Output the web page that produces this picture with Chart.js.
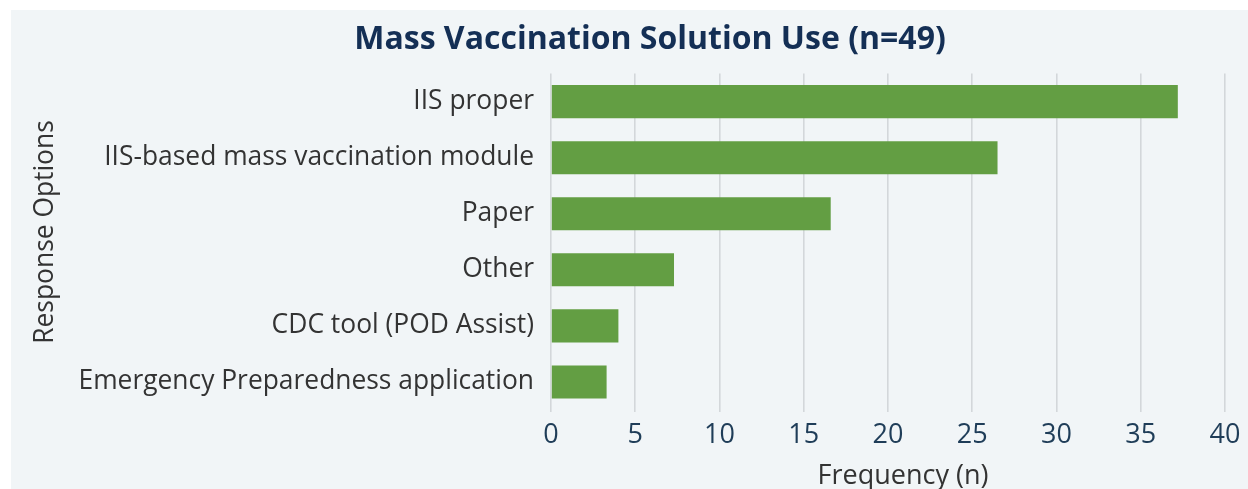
<!DOCTYPE html>
<html>
<head>
<meta charset="utf-8">
<script src="https://cdn.jsdelivr.net/npm/chart.js@4"></script>
<style>
  html, body { margin: 0; padding: 0; background: #ffffff; overflow: hidden; width: 1248px; height: 489px; }
  #panel { position: absolute; left: 11px; top: 10px; width: 1278px; height: 479px; background: #f1f5f7; }
  canvas { display: block; }
</style>
</head>
<body>
<div id="panel"><canvas id="c" width="1278" height="479"></canvas></div>
<script>
const categories = [
  "IIS proper",
  "IIS-based mass vaccination module",
  "Paper",
  "Other",
  "CDC tool (POD Assist)",
  "Emergency Preparedness application"
];
const frequency = [37.2, 26.5, 16.6, 7.3, 4.0, 3.3];
const xTicks = [0, 5, 10, 15, 20, 25, 30, 35, 40];
const chartTitle = "Mass Vaccination Solution Use (n=49)";
const xTitle = "Frequency (n)";
const yTitle = "Response Options";

const FONT = "'Open Sans', 'Noto Sans', sans-serif";

// Axis titles, positioned as in the reference
const axisTitles = {
  id: 'axisTitles',
  afterDraw(chart) {
    const ctx = chart.ctx;
    ctx.save();
    ctx.fillStyle = '#333333';
    ctx.textAlign = 'center';
    ctx.textBaseline = 'middle';
    ctx.font = "27px " + FONT;
    ctx.fillText(xTitle, 892, 466);
    ctx.translate(34, 222);
    ctx.rotate(-Math.PI / 2);
    ctx.font = "26.4px " + FONT;
    ctx.fillText(yTitle, 0, 0);
    ctx.restore();
  }
};

new Chart(document.getElementById('c'), {
  type: 'bar',
  data: {
    labels: categories,
    datasets: [{
      data: frequency,
      backgroundColor: '#639e43',
      borderWidth: 0,
      barPercentage: 0.59,
      categoryPercentage: 1.0
    }]
  },
  plugins: [axisTitles],
  options: {
    indexAxis: 'y',
    responsive: false,
    animation: false,
    devicePixelRatio: 1,
    layout: { padding: { left: 64, right: 64, top: 0, bottom: 0 } },
    plugins: {
      legend: { display: false },
      tooltip: { enabled: false },
      title: {
        display: true,
        text: chartTitle,
        color: '#142f55',
        font: { family: FONT, size: 32, weight: 'bold', lineHeight: 1.2 },
        padding: { top: 10.8, bottom: 14.4 }
      }
    },
    scales: {
      x: {
        type: 'linear',
        min: 0,
        max: 40,
        afterBuildTicks: (s) => { s.ticks = xTicks.map(v => ({ value: v })); },
        afterFit: (s) => { s.height = 79; },
        grid: { color: '#d3d7da', lineWidth: 1.6, drawTicks: true, tickLength: 2, tickColor: '#d3d7da' },
        border: { display: false },
        ticks: {
          color: '#1f3d58',
          font: { family: FONT, size: 27, lineHeight: 1.2 },
          padding: 7,
          maxRotation: 0
        },
        title: { display: false }
      },
      y: {
        type: 'category',
        afterFit: (s) => { s.width = 476; },
        grid: { display: false, drawTicks: false },
        border: { display: false },
        ticks: {
          color: '#333333',
          font: { family: FONT, size: 26.4, lineHeight: 1.2 },
          padding: 17,
          autoSkip: false
        },
        title: { display: false }
      }
    }
  }
});
</script>
</body>
</html>
